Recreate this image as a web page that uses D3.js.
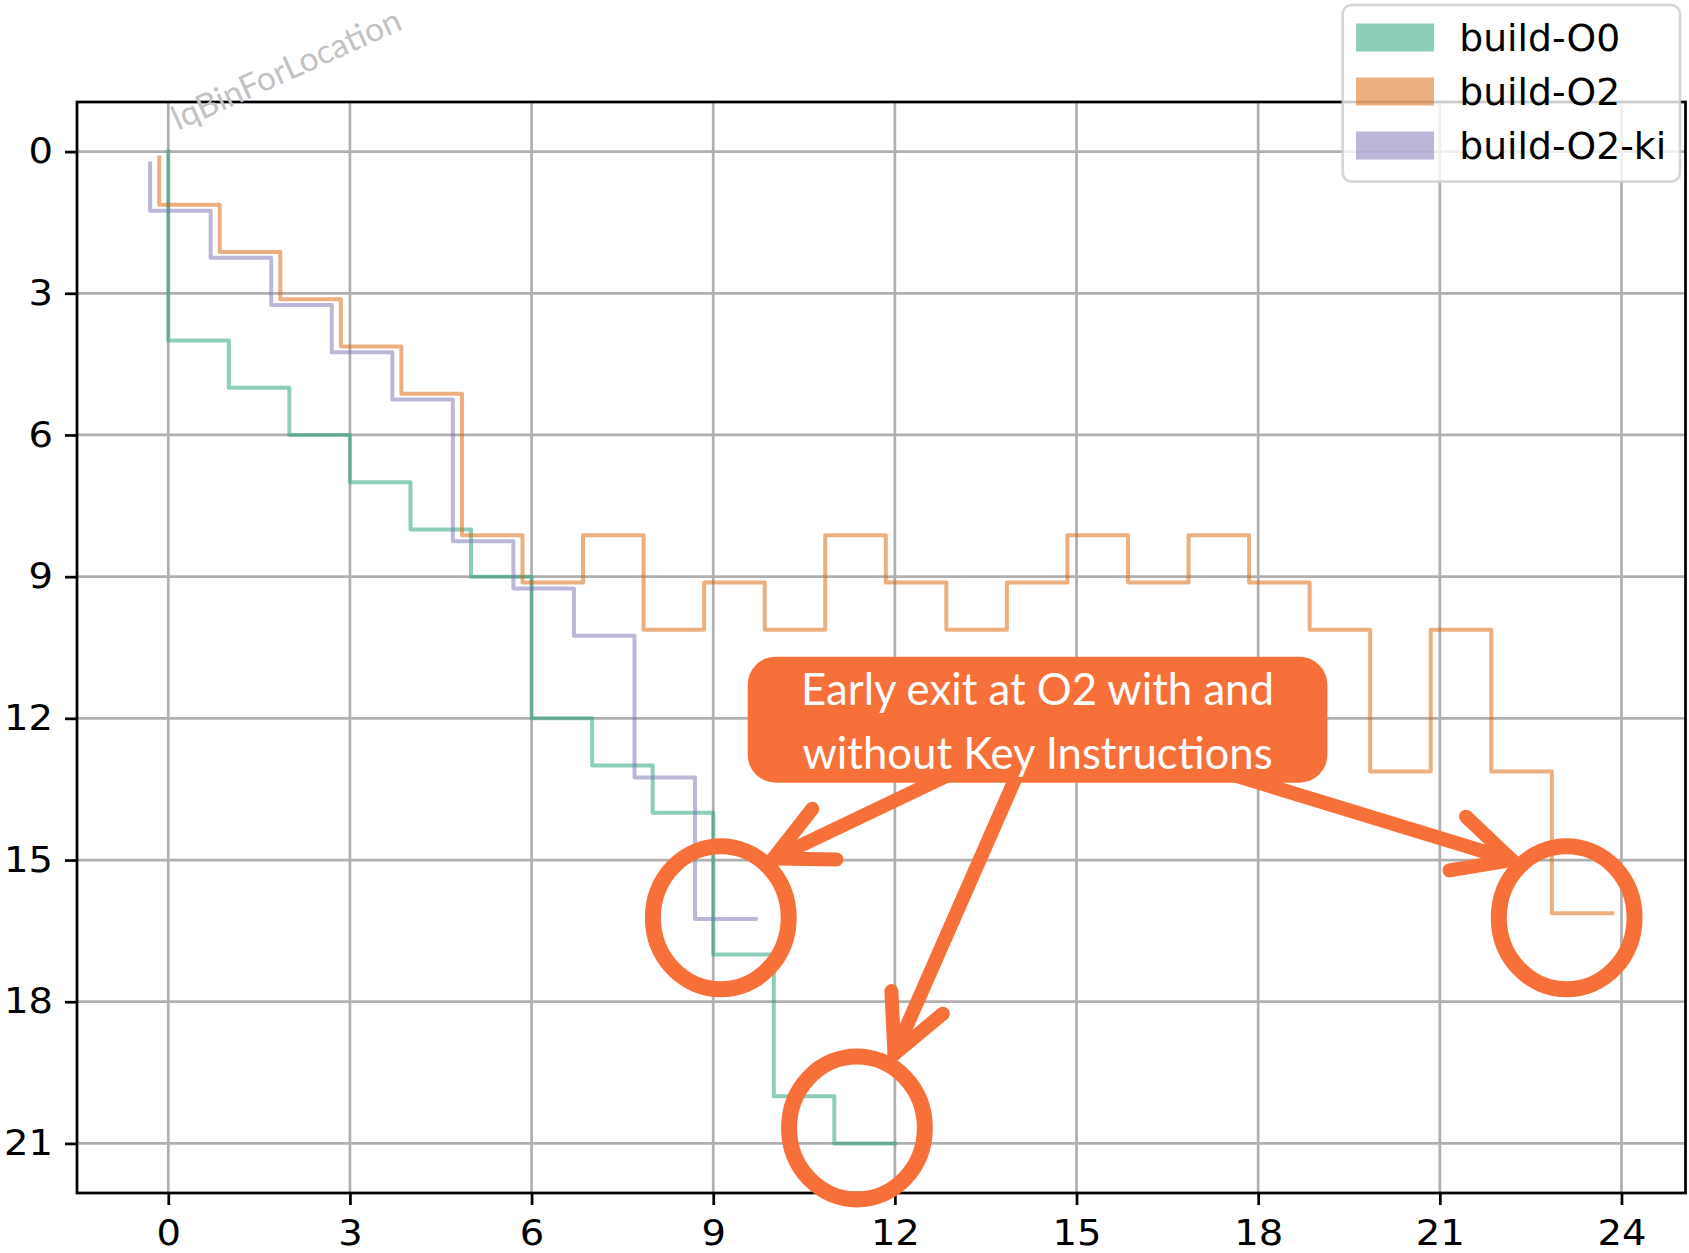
<!DOCTYPE html>
<html><head><meta charset="utf-8">
<script src="https://cdn.jsdelivr.net/npm/d3@7"></script>
<style>body{margin:0;background:#fff}svg{display:block}</style>
</head><body><svg id="chart" width="1689" height="1253"></svg>
<script>
// ---------- data ----------
const seriesNames = ["build-O0", "build-O2", "build-O2-ki"];
const seriesColors = ["#1b9e77", "#d95f02", "#7570b3"];
const o0X = [0,1,2,3,4,5,6,7,8,9,10,11,12];
const o0Y = [0,4,5,6,7,8,9,12,13,14,17,20,21];
const o2X = [0,1,2,3,4,5,6,7,8,9,10,11,12,13,14,15,16,17,18,19,20,21,22,23,24];
const o2Y = [0,1,2,3,4,5,8,9,8,10,9,10,8,9,10,9,8,9,8,9,10,13,10,13,16];
const o2kiX = [0,1,2,3,4,5,6,7,8,9,10];
const o2kiY = [0,1,2,3,4,5,8,9,10,13,16];
const seriesOffsetX = [0, -0.15, -0.3];
const seriesOffsetY = [0, 0.125, 0.25];
const xTicks = [0,3,6,9,12,15,18,21,24];
const yTicks = [0,3,6,9,12,15,18,21];
const watermark = "lqBinForLocation";
const calloutLines = ["Early exit at O2 with and", "without Key Instructions"];
// callout geometry in data units
const calloutBox = {x0: 9.569, x1: 19.143, y0: 10.695, y1: 13.362};
const circleCenters = [[9.125, 16.223], [11.374, 20.673], [23.095, 16.223]];
const arrowTips = [[9.995, 14.967], [11.993, 19.107], [22.187, 15.0]];
const arrowAngles = [-25.5, -66.3, -163];
const watermarkAnchor = [0.16, -0.44];

// ---------- setup ----------
const svg = d3.select("#chart");
svg.append("rect").attr("width",1689).attr("height",1253).attr("fill","#fff");
const plot = {left:77, right:1685.5, top:102, bottom:1193};
const series = [[o0X,o0Y],[o2X,o2Y],[o2kiX,o2kiY]].map((s,i)=>({
  name: seriesNames[i], color: seriesColors[i],
  pts: s[0].map((v,j)=>[v+seriesOffsetX[i], s[1][j]+seriesOffsetY[i]])
}));
const allPts = series.flatMap(s=>s.pts);
const [xmin,xmax] = d3.extent(allPts, d=>d[0]);
const [ymin,ymax] = d3.extent(allPts, d=>d[1]);
const mx = (xmax-xmin)*0.05, my = (ymax-ymin)*0.05;
const x = d3.scaleLinear().domain([xmin-mx, xmax+mx]).range([plot.left, plot.right]);
const y = d3.scaleLinear().domain([ymin-my, ymax+my]).range([plot.top, plot.bottom]);

const LW = 2.74;
const gGrid = svg.append("g");
gGrid.selectAll(".vg").data(xTicks).join("line")
  .attr("x1",d=>x(d)).attr("x2",d=>x(d)).attr("y1",plot.top).attr("y2",plot.bottom)
  .attr("stroke","#b0b0b0").attr("stroke-width",LW);
gGrid.selectAll(".hg").data(yTicks).join("line")
  .attr("y1",d=>y(d)).attr("y2",d=>y(d)).attr("x1",plot.left).attr("x2",plot.right)
  .attr("stroke","#b0b0b0").attr("stroke-width",LW);

// lines
const line = d3.line().x(d=>x(d[0])).y(d=>y(d[1])).curve(d3.curveStepBefore);
svg.append("g").selectAll("path").data(series).join("path")
  .attr("d", d=>line(d.pts)).attr("fill","none")
  .attr("stroke", d=>d.color).attr("stroke-opacity",0.5)
  .attr("stroke-width",4).attr("stroke-linecap","square").attr("stroke-linejoin","round");

// axes
const fontTick = 35, stretch = 1.1;
const xAxis = svg.append("g").attr("transform",`translate(0,${plot.bottom})`)
  .call(d3.axisBottom(x).tickValues(xTicks).tickSize(12).tickPadding(15.5).tickSizeOuter(0));
const yAxis = svg.append("g").attr("transform",`translate(${plot.left},0)`)
  .call(d3.axisLeft(y).tickValues(yTicks).tickSize(12).tickPadding(12).tickSizeOuter(0));
[xAxis,yAxis].forEach(a=>{
  a.select(".domain").remove();
  a.selectAll(".tick line").attr("stroke","#000").attr("stroke-width",LW);
  a.selectAll(".tick text").attr("fill","#000")
    .style("font-family","'DejaVu Sans'").style("font-size",fontTick+"px")
    .attr("transform",`scale(${stretch},1)`);
});
yAxis.selectAll(".tick text").attr("x", -24/stretch);
svg.append("rect").attr("x",plot.left).attr("y",plot.top)
  .attr("width",plot.right-plot.left).attr("height",plot.bottom-plot.top)
  .attr("fill","none").attr("stroke","#000").attr("stroke-width",LW);

// watermark
const wm = svg.append("text").text(watermark)
  .attr("font-family","Lato").attr("font-size",30).attr("fill","#c2c2c2")
  .attr("transform",`translate(${x(watermarkAnchor[0])},${y(watermarkAnchor[1])}) rotate(-24.3)`);
{ const L = wm.node().getComputedTextLength(); wm.attr("font-size", 30*248/L); }

// legend
const lg = svg.append("g");
lg.append("rect").attr("x",1342.7).attr("y",5).attr("width",337.3).attr("height",176.7)
  .attr("rx",9).attr("fill","#fff").attr("fill-opacity",0.8)
  .attr("stroke","#cccccc").attr("stroke-opacity",0.8).attr("stroke-width",LW);
const rows = lg.selectAll(".row").data(series).join("g")
  .attr("transform",(d,i)=>`translate(0,${37.5+i*54})`);
rows.append("rect").attr("x",1356).attr("y",-14).attr("width",78).attr("height",28)
  .attr("fill",d=>d.color).attr("fill-opacity",0.5);
rows.append("text").attr("x",1459.3).attr("y",13.7).text(d=>d.name)
  .attr("font-family","'DejaVu Sans'").attr("font-size",37.7).attr("fill","#000");

// callout annotation
const AC = "#f7703a";
const ann = svg.append("g");
const rad = Math.PI/180;
arrowTips.forEach((t,i)=>{
  const tx = x(t[0]), ty = y(t[1]), a = arrowAngles[i]*rad;
  const tail = [tx + 320*Math.cos(a), ty + 320*Math.sin(a)];
  ann.append("line").attr("x1",tx).attr("y1",ty).attr("x2",tail[0]).attr("y2",tail[1])
    .attr("stroke",AC).attr("stroke-width",14).attr("stroke-linecap","round");
  const hl = 63, ha = 26.5*rad;
  const p1 = [tx + hl*Math.cos(a-ha), ty + hl*Math.sin(a-ha)];
  const p2 = [tx + hl*Math.cos(a+ha), ty + hl*Math.sin(a+ha)];
  ann.append("path").attr("d",`M${p1[0]},${p1[1]}L${tx},${ty}L${p2[0]},${p2[1]}`)
    .attr("fill","none").attr("stroke",AC).attr("stroke-width",14)
    .attr("stroke-linecap","round").attr("stroke-linejoin","miter");
});
ann.selectAll("ellipse").data(circleCenters).join("ellipse")
  .attr("cx",d=>x(d[0])).attr("cy",d=>y(d[1])).attr("rx",67.9).attr("ry",71.5)
  .attr("fill","none").attr("stroke",AC).attr("stroke-width",16);
const bx0 = x(calloutBox.x0), bx1 = x(calloutBox.x1), by0 = y(calloutBox.y0), by1 = y(calloutBox.y1);
ann.append("rect").attr("x",bx0).attr("y",by0).attr("width",bx1-bx0).attr("height",by1-by0)
  .attr("rx",28).attr("fill",AC);
const cxm = (bx0+bx1)/2;
const tl = ann.selectAll(".ct").data(calloutLines).join("text")
  .attr("x",cxm).attr("y",(d,i)=>by0+48.3+i*64.3).attr("text-anchor","middle")
  .attr("font-family","Lato").attr("font-size",40).attr("fill","#fff").text(d=>d);
{ const L = tl.nodes()[0].getComputedTextLength(); tl.attr("font-size", 40*473/L); }
</script></body></html>
